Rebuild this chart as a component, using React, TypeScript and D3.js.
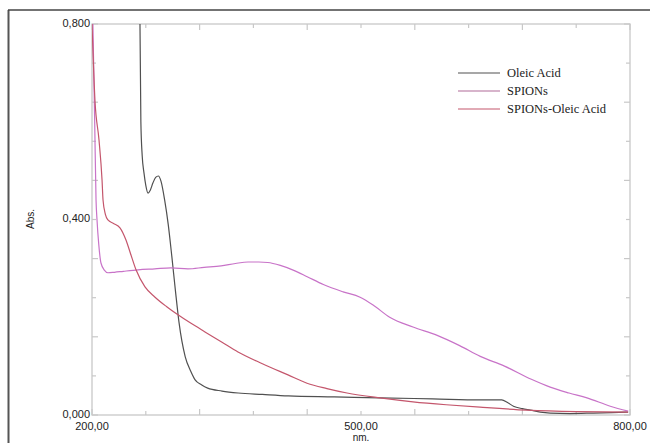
import React from "react";
import * as d3 from "d3";

// Wavelength (nm) / absorbance readings
const oleicNm = [253, 253.5, 254.5, 256, 258, 260, 262.5, 265, 268, 271, 274, 277, 281, 285, 289, 293, 297, 304, 310, 315, 322, 329, 345, 363, 390, 419, 470, 521, 580, 633, 657, 663, 670, 680, 689, 700, 711, 733, 759, 780, 798];
const oleicAbs = [1.0, 0.8, 0.6, 0.53, 0.495, 0.47, 0.454, 0.46, 0.475, 0.486, 0.489, 0.478, 0.44, 0.39, 0.325, 0.255, 0.19, 0.119, 0.09, 0.072, 0.062, 0.055, 0.049, 0.045, 0.042, 0.039, 0.037, 0.035, 0.033, 0.031, 0.031, 0.026, 0.018, 0.013, 0.01, 0.006, 0.004, 0.003, 0.004, 0.005, 0.006];

const spionsNm = [201, 203, 204.5, 205.6, 207.5, 210, 214, 217.8, 225, 235, 251.3, 270, 288, 307, 325, 344, 360, 374, 386, 396, 410, 425, 440, 458, 480, 499, 515, 532, 558, 585, 610, 633, 660, 690, 711, 732, 752, 778, 798];
const spionsAbs = [0.8, 0.6, 0.44, 0.399, 0.35, 0.311, 0.296, 0.291, 0.292, 0.294, 0.297, 0.299, 0.301, 0.299, 0.302, 0.305, 0.31, 0.313, 0.313, 0.312, 0.306, 0.296, 0.283, 0.267, 0.252, 0.241, 0.223, 0.2, 0.18, 0.163, 0.142, 0.12, 0.1, 0.073, 0.057, 0.045, 0.035, 0.018, 0.008];

const spionsOaNm = [200, 203.3, 207.8, 211.2, 212.3, 215, 217.8, 224, 231.2, 237.9, 243, 249.1, 259.1, 270.3, 283, 295.9, 310, 326, 345, 362.8, 390, 418.6, 439.8, 462, 484.4, 521.2, 558, 595, 632.7, 685, 740, 797.7];
const spionsOaAbs = [0.8, 0.644, 0.563, 0.481, 0.44, 0.41, 0.399, 0.392, 0.383, 0.358, 0.33, 0.297, 0.262, 0.241, 0.222, 0.205, 0.188, 0.17, 0.149, 0.129, 0.105, 0.082, 0.065, 0.054, 0.045, 0.035, 0.027, 0.021, 0.016, 0.01, 0.007, 0.006];

const seriesNames = ["Oleic Acid", "SPIONs", "SPIONs-Oleic Acid"];
const seriesColors = ["#505050", "#c873c8", "#c4566c"];
const legendColors = ["#505050", "#b06a98", "#c4566c"];

const xDomain = [200, 800];
const yDomain = [0, 0.8];
const xTickLabels = ["200,00", "500,00", "800,00"];
const xLabelValues = [200, 500, 800];
const yTickLabels = ["0,000", "0,400", "0,800"];
const yLabelValues = [0, 0.4, 0.8];

export default function App() {
  const W = 650, H = 443;
  const left = 92, right = 630, top = 24, bottom = 415;
  const x = d3.scaleLinear().domain(xDomain).range([left, right]);
  const y = d3.scaleLinear().domain(yDomain).range([bottom, top]);
  const line = d3
    .line<[number, number]>()
    .x((d) => x(d[0]))
    .y((d) => y(d[1]))
    .curve(d3.curveMonotoneX);

  const data: [number, number][][] = [
    oleicNm.map((n, i) => [n, oleicAbs[i]]),
    spionsNm.map((n, i) => [n, spionsAbs[i]]),
    spionsOaNm.map((n, i) => [n, spionsOaAbs[i]]),
  ];

  const xTicks = d3.range(11).map((i) => 200 + i * 60);
  const yTicks = d3.range(11).map((i) => i * 0.08);
  const sans = "'Liberation Sans', Arial, sans-serif";
  const serif = "'Liberation Serif', 'Times New Roman', serif";
  const frame = "#c8c8c8";

  return (
    <svg
      width={W}
      height={H}
      style={{ position: "absolute", left: 0, top: 0, display: "block", background: "#fff" }}
    >
      <defs>
        <clipPath id="plotclip">
          <rect x={left} y={top} width={right - left} height={bottom - top} />
        </clipPath>
      </defs>
      {/* outer border */}
      <line x1={8.5} y1={10} x2={8.5} y2={H} stroke="#555" strokeWidth={2} />
      <line x1={8} y1={10} x2={W} y2={10} stroke="#444" strokeWidth={1.5} />

      {/* plot frame */}
      <rect x={left} y={top} width={right - left} height={bottom - top} fill="none" stroke={frame} strokeWidth={1.3} />

      {xTicks.map((t, i) => {
        const len = i % 2 === 0 ? 6 : 4;
        return (
          <g key={"xt" + i}>
            <line x1={x(t)} x2={x(t)} y1={bottom} y2={bottom - len} stroke={frame} strokeWidth={1.2} />
            <line x1={x(t)} x2={x(t)} y1={top} y2={top + len} stroke={frame} strokeWidth={1.2} />
          </g>
        );
      })}
      {yTicks.map((t, i) => {
        const len = i % 2 === 0 ? 6 : 4;
        return (
          <g key={"yt" + i}>
            <line x1={left} x2={left + len} y1={y(t)} y2={y(t)} stroke={frame} strokeWidth={1.2} />
            <line x1={right} x2={right - len} y1={y(t)} y2={y(t)} stroke={frame} strokeWidth={1.2} />
          </g>
        );
      })}

      {/* curves */}
      <g clipPath="url(#plotclip)">
        {data.map((d, i) => (
          <path key={i} d={line(d) || ""} fill="none" stroke={seriesColors[i]} strokeWidth={1.2} />
        ))}
      </g>

      {/* tick labels */}
      {yLabelValues.map((v, i) => (
        <text key={"yl" + i} x={left - 2} y={y(v) - 1} dy="0.32em" textAnchor="end" fontFamily={sans} fontSize={11} fill="#222">
          {yTickLabels[i]}
        </text>
      ))}
      {xLabelValues.map((v, i) => (
        <text key={"xl" + i} x={x(v)} y={430} textAnchor="middle" fontFamily={sans} fontSize={11} fill="#222">
          {xTickLabels[i]}
        </text>
      ))}
      <text x={x(500)} y={441} textAnchor="middle" fontFamily={sans} fontSize={10} fill="#222">
        nm.
      </text>
      <text transform="translate(34,219) rotate(-90)" textAnchor="middle" fontFamily={sans} fontSize={10} fill="#222">
        Abs.
      </text>

      {/* legend */}
      {seriesNames.map((name, i) => {
        const ly = [73, 91, 109][i];
        return (
          <g key={"lg" + i}>
            <line x1={458} x2={500} y1={ly} y2={ly} stroke={legendColors[i]} strokeWidth={1.2} />
            <text x={507} y={ly} dy="0.35em" fontFamily={serif} fontSize={12.5} fill="#222">
              {name}
            </text>
          </g>
        );
      })}
    </svg>
  );
}
